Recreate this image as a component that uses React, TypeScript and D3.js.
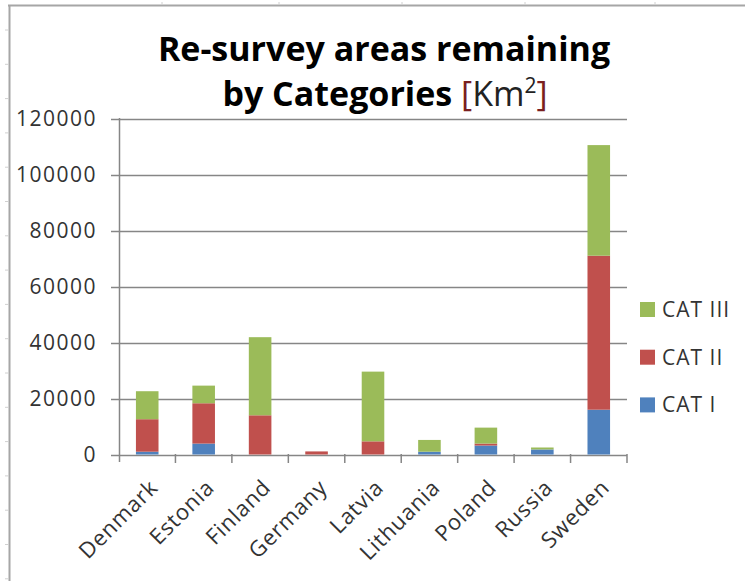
import React, { useEffect, useRef } from 'react'
import * as d3 from 'd3'

const categories = ['Denmark', 'Estonia', 'Finland', 'Germany', 'Latvia', 'Lithuania', 'Poland', 'Russia', 'Sweden']
const cat1 = [1000, 3900, 0, 0, 0, 1000, 3200, 1800, 16000]
const cat2 = [11600, 14400, 14000, 1100, 4700, 0, 700, 0, 55000]
const cat3 = [10000, 6300, 27900, 0, 24900, 4200, 5700, 700, 39500]
const seriesNames = ['CAT I', 'CAT II', 'CAT III']
const yTicks = [0, 20000, 40000, 60000, 80000, 100000, 120000]

const colors = ['#4F81BD', '#C0504D', '#9BBB59']
const font = "'Open Sans', sans-serif"

function App() {
  const svgRef = useRef<SVGSVGElement>(null)

  useEffect(() => {
    const w = 745
    const h = 581
    const svg = d3.select(svgRef.current)
    svg.selectAll('*').remove()

    // sheet frame (cell borders behind the chart)
    const frame = svg.append('g').attr('stroke', '#a6a6a6')
    frame.append('line').attr('x1', 8).attr('x2', w).attr('y1', 5.5).attr('y2', 5.5).attr('stroke-width', 2)
    frame.append('line').attr('x1', 9.5).attr('x2', 9.5).attr('y1', 5).attr('y2', h).attr('stroke-width', 2)
    ;[162, 279, 402, 525, 655].forEach(x => {
      frame.append('line').attr('x1', x).attr('x2', x).attr('y1', 2).attr('y2', 5).attr('stroke', '#d0d0d0')
    })
    d3.range(30, h, 34.3).forEach(y => {
      frame.append('line').attr('x1', 5).attr('x2', 9).attr('y1', y).attr('y2', y).attr('stroke', '#d0d0d0')
    })

    const x = d3.scaleBand<string>()
      .domain(categories)
      .range([119, 627])
      .paddingInner(0.6)
      .paddingOuter(0.3)
    const slot = d3.scaleBand<string>().domain(categories).range([119, 627])
    const y = d3.scaleLinear().domain([0, 120000]).range([454.5, 118.5])

    // gridlines
    svg.append('g')
      .selectAll('line')
      .data(yTicks)
      .join('line')
      .attr('x1', 111)
      .attr('x2', 627)
      .attr('y1', d => Math.round(y(d)) + 0.5)
      .attr('y2', d => Math.round(y(d)) + 0.5)
      .attr('stroke', '#868686')
      .attr('stroke-width', 1.5)

    // stacked bars
    const rows = categories.map((c, i) => ({ c, a: cat1[i], b: cat2[i], d: cat3[i] }))
    const stack = d3.stack<any>().keys(['a', 'b', 'd'])(rows)
    svg.append('g')
      .selectAll('g')
      .data(stack)
      .join('g')
      .attr('fill', (_, i) => colors[i])
      .selectAll('rect')
      .data(s => s)
      .join('rect')
      .attr('x', d => x(d.data.c)!)
      .attr('width', x.bandwidth())
      .attr('y', d => y(d[1]))
      .attr('height', d => y(d[0]) - y(d[1]))

    // axes
    svg.append('line')
      .attr('x1', 119.5).attr('x2', 119.5)
      .attr('y1', 118).attr('y2', 462)
      .attr('stroke', '#868686').attr('stroke-width', 1.5)
    svg.append('g')
      .selectAll('line')
      .data(categories)
      .join('line')
      .attr('x1', d => slot(d)! + slot.step())
      .attr('x2', d => slot(d)! + slot.step())
      .attr('y1', 454)
      .attr('y2', 463)
      .attr('stroke', '#868686')
      .attr('stroke-width', 1.5)

    // y tick labels
    svg.append('g')
      .selectAll('text')
      .data(yTicks)
      .join('text')
      .attr('x', 97)
      .attr('y', d => y(d))
      .attr('dy', '0.35em')
      .attr('text-anchor', 'end')
      .attr('font-family', font)
      .attr('font-size', 21)
      .attr('letter-spacing', 1.5)
      .attr('fill', '#333')
      .text(d => d)

    // x tick labels
    svg.append('g')
      .selectAll('text')
      .data(categories)
      .join('text')
      .attr('transform', d => `translate(${x(d)! + x.bandwidth() / 2 + 12},${489}) rotate(-45)`)
      .attr('text-anchor', 'end')
      .attr('font-family', font)
      .attr('font-size', 22)
      .attr('letter-spacing', 0.8)
      .attr('fill', '#333')
      .text(d => d)

    // title
    const title = svg.append('g').attr('font-family', font).attr('text-anchor', 'middle').attr('fill', '#000')
    title.append('text')
      .attr('x', 384).attr('y', 61)
      .attr('font-size', 34).attr('font-weight', 'bold')
      .text('Re-survey areas remaining')
    const t2 = title.append('text').attr('x', 385).attr('y', 106).attr('font-size', 34)
    t2.append('tspan').attr('font-weight', 'bold').text('by Categories ')
    t2.append('tspan').attr('fill', '#7a1f1f').attr('font-weight', 'normal').text('[')
    t2.append('tspan').attr('fill', '#222').attr('font-weight', 'normal').text('Km')
    t2.append('tspan').attr('fill', '#222').attr('font-weight', 'normal').attr('font-size', 21).attr('dy', -13).text('2')
    t2.append('tspan').attr('fill', '#7a1f1f').attr('font-weight', 'normal').attr('dy', 13).text(']')

    // legend
    const legend = svg.append('g')
      .selectAll('g')
      .data(seriesNames.map((n, i) => ({ n, i })).reverse())
      .join('g')
      .attr('transform', (d, k) => `translate(640,${302 + k * 47.7})`)
    legend.append('rect').attr('width', 15).attr('height', 15).attr('fill', d => colors[d.i])
    legend.append('text')
      .attr('x', 22).attr('y', 7.5).attr('dy', '0.35em')
      .attr('font-family', font).attr('font-size', 21)
      .attr('letter-spacing', 1)
      .attr('fill', '#333')
      .text(d => d.n)
  }, [])

  return (
    <svg ref={svgRef} width={745} height={581}
      style={{ position: 'absolute', left: 0, top: 0, background: '#fff' }} />
  )
}

export default App
